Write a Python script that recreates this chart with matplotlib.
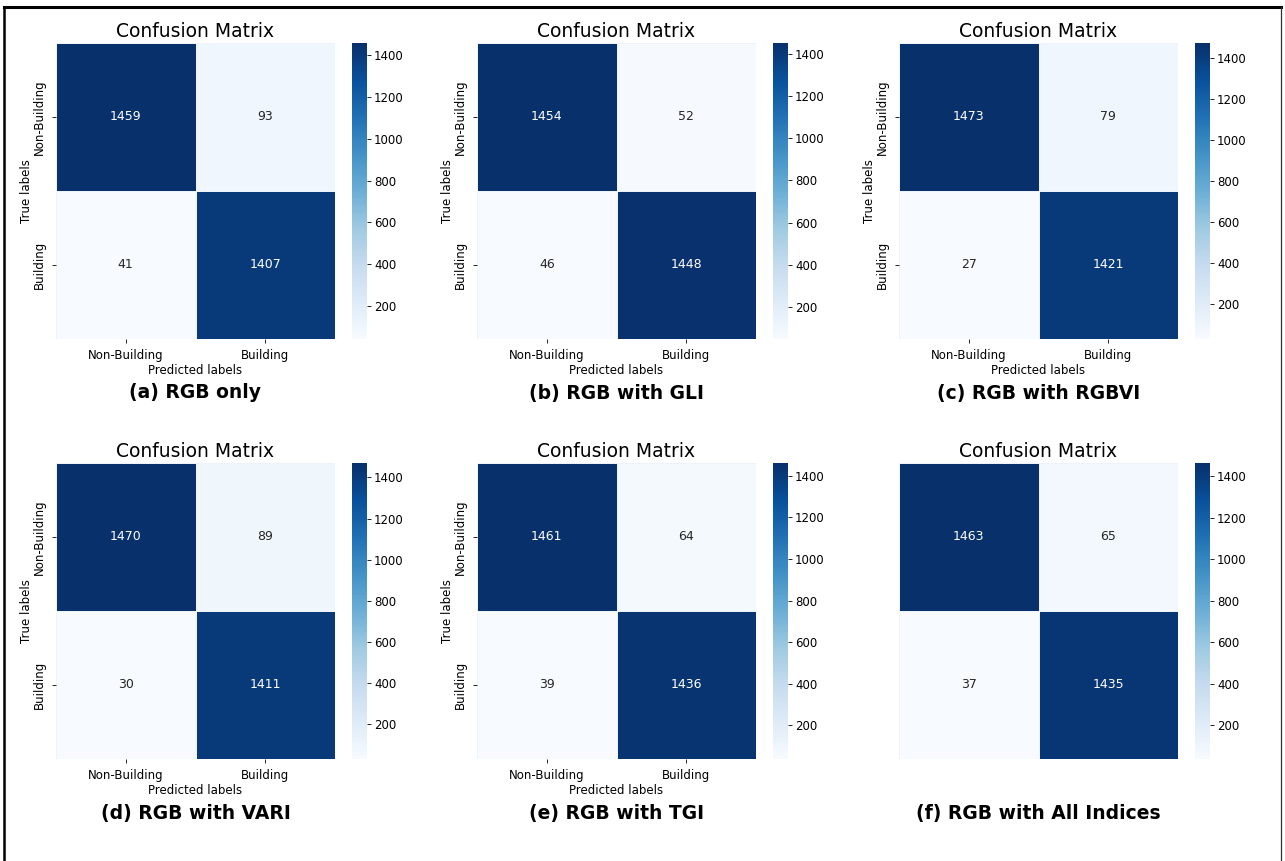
import matplotlib
matplotlib.use('Agg')
import matplotlib.pyplot as plt
from matplotlib.lines import Line2D
import numpy as np
import seaborn as sns

class_names = ['Non-Building', 'Building']
captions = ['(a) RGB only', '(b) RGB with GLI', '(c) RGB with RGBVI',
            '(d) RGB with VARI', '(e) RGB with TGI', '(f) RGB with All Indices']

# rows: true label, cols: predicted label
cm_rgb = [[1459, 93], [41, 1407]]
cm_gli = [[1454, 52], [46, 1448]]
cm_rgbvi = [[1473, 79], [27, 1421]]
cm_vari = [[1470, 89], [30, 1411]]
cm_tgi = [[1461, 64], [39, 1436]]
cm_all = [[1463, 65], [37, 1435]]
matrices = [cm_rgb, cm_gli, cm_rgbvi, cm_vari, cm_tgi, cm_all]

W, H = 1285, 861
fig = plt.figure(figsize=(W / 100, H / 100), dpi=100)

lefts = [56, 477, 899]
tops = [43, 463]
hm_w, hm_h = 279, 296
cb_off, cb_w = 296, 15

def px(x, y, w, h):
    return [x / W, 1 - (y + h) / H, w / W, h / H]

for i, cm in enumerate(matrices):
    r, c = divmod(i, 3)
    x0, y0 = lefts[c], tops[r]
    ax = fig.add_axes(px(x0, y0, hm_w, hm_h))
    cax = fig.add_axes(px(x0 + cb_off, y0, cb_w, hm_h))
    data = np.array(cm)
    show_labels = i != 5
    sns.heatmap(data, annot=True, fmt='d', cmap='Blues', ax=ax, cbar_ax=cax,
                linewidths=0.4, linecolor='#eef3fa',
                xticklabels=class_names if show_labels else False,
                yticklabels=class_names if show_labels else False,
                annot_kws={'fontsize': 9})
    ax.set_title('Confusion Matrix', fontsize=13.5, pad=4)
    if show_labels:
        ax.set_xlabel('Predicted labels', fontsize=8.5, labelpad=1.5)
        ax.set_ylabel('True labels', fontsize=8.5, labelpad=0)
        ax.tick_params(labelsize=8.5, length=3, width=0.6, pad=4)
        plt.setp(ax.get_yticklabels(), rotation=90, va='center')
    cax.tick_params(labelsize=8.5, length=3, width=0.6, pad=2)
    cax.set_yticks([200, 400, 600, 800, 1000, 1200, 1400])
    fig.text((x0 + hm_w / 2) / W, 1 - (y0 + 350) / H, captions[i],
             fontsize=13.5, fontweight='bold', ha='center', va='center')

# frame around the figure
fig.add_artist(Line2D([4 / W, 1281 / W], [1 - 7 / H, 1 - 7 / H], color='black', lw=2.2))
fig.add_artist(Line2D([4 / W, 4 / W], [1 - 7 / H, 0], color='black', lw=1.8))
fig.add_artist(Line2D([1281 / W, 1281 / W], [1 - 7 / H, 0], color='#333333', lw=0.9))

fig.savefig('out.png', dpi=100)
